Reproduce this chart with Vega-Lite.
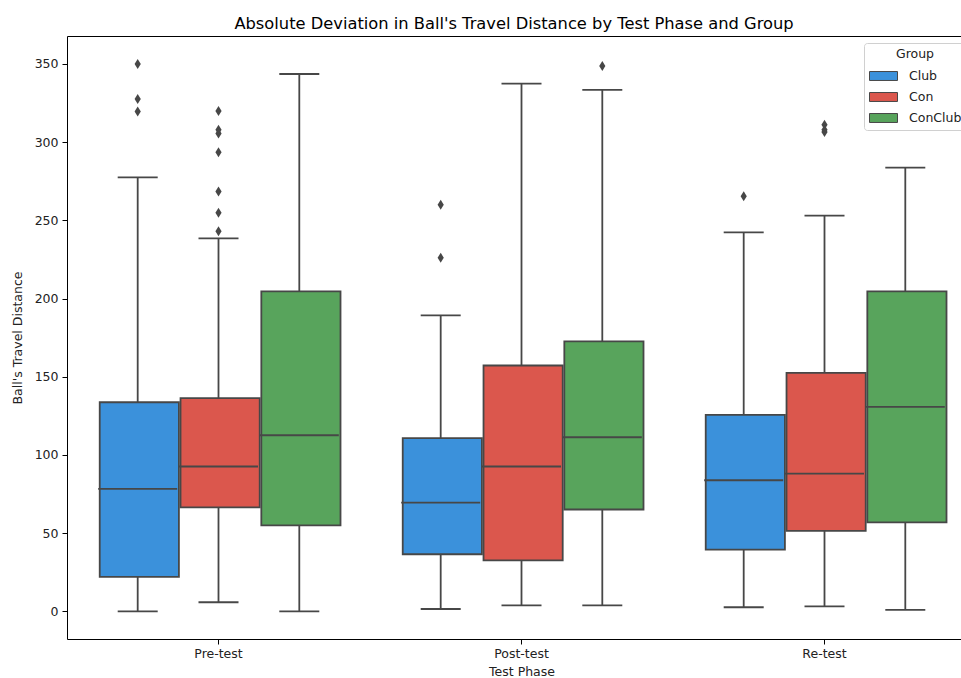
{
  "$schema": "https://vega.github.io/schema/vega-lite/v6.json",
  "autosize": {"type": "none"},
  "padding": {"left": 67, "top": 36, "right": 0, "bottom": 40},
  "width": 894,
  "height": 603,
  "background": "white",
  "title": {
    "text": "Absolute Deviation in Ball's Travel Distance by Test Phase and Group",
    "font": "DejaVu Sans",
    "fontSize": 16.3,
    "fontWeight": "normal",
    "color": "#000000",
    "anchor": "middle",
    "offset": 4,
    "frame": "group"
  },
  "datasets": {
    "boxes": [
      {"phase": "Pre-test", "group": "Club", "lower": 0, "q1": 22, "median": 78.3, "q3": 133.7, "upper": 277.5},
      {"phase": "Pre-test", "group": "Con", "lower": 5.8, "q1": 66.5, "median": 92.6, "q3": 136.3, "upper": 238.5},
      {"phase": "Pre-test", "group": "ConClub", "lower": 0, "q1": 55, "median": 112.6, "q3": 204.6, "upper": 343.6},
      {"phase": "Post-test", "group": "Club", "lower": 1.5, "q1": 36.5, "median": 69.5, "q3": 110.7, "upper": 189.2},
      {"phase": "Post-test", "group": "Con", "lower": 3.8, "q1": 32.6, "median": 92.6, "q3": 157.2, "upper": 337.4},
      {"phase": "Post-test", "group": "ConClub", "lower": 3.8, "q1": 65.1, "median": 111.3, "q3": 172.6, "upper": 333.4},
      {"phase": "Re-test", "group": "Club", "lower": 2.6, "q1": 39.5, "median": 83.8, "q3": 125.6, "upper": 242.3},
      {"phase": "Re-test", "group": "Con", "lower": 3.2, "q1": 51.4, "median": 88.1, "q3": 152.5, "upper": 253},
      {"phase": "Re-test", "group": "ConClub", "lower": 0.9, "q1": 56.9, "median": 130.8, "q3": 204.6, "upper": 283.7}
    ],
    "outliers": [
      {"phase": "Pre-test", "group": "Club", "value": 350},
      {"phase": "Pre-test", "group": "Club", "value": 327.6},
      {"phase": "Pre-test", "group": "Club", "value": 319.7},
      {"phase": "Pre-test", "group": "Con", "value": 320},
      {"phase": "Pre-test", "group": "Con", "value": 308},
      {"phase": "Pre-test", "group": "Con", "value": 305.5},
      {"phase": "Pre-test", "group": "Con", "value": 293.5},
      {"phase": "Pre-test", "group": "Con", "value": 268.5},
      {"phase": "Pre-test", "group": "Con", "value": 254.9},
      {"phase": "Pre-test", "group": "Con", "value": 243.1},
      {"phase": "Post-test", "group": "Club", "value": 260},
      {"phase": "Post-test", "group": "Club", "value": 226.1},
      {"phase": "Post-test", "group": "ConClub", "value": 348.7},
      {"phase": "Re-test", "group": "Club", "value": 265.5},
      {"phase": "Re-test", "group": "Con", "value": 311.2},
      {"phase": "Re-test", "group": "Con", "value": 308},
      {"phase": "Re-test", "group": "Con", "value": 306.5}
    ]
  },
  "encoding": {
    "x": {
      "field": "phase",
      "type": "nominal",
      "sort": ["Pre-test", "Post-test", "Re-test"],
      "scale": {"range": [0, 909], "paddingInner": 0.2, "paddingOuter": 0.1, "round": false},
      "axis": null
    },
    "xOffset": {
      "field": "group",
      "type": "nominal",
      "sort": ["Club", "Con", "ConClub"],
      "scale": {"paddingInner": 0, "paddingOuter": 0, "round": false}
    }
  },
  "layer": [
    {
      "data": {"name": "boxes"},
      "mark": {"type": "rule", "color": "#474747", "strokeWidth": 1.8},
      "encoding": {
        "x": {
          "field": "phase",
          "type": "nominal",
          "sort": ["Pre-test", "Post-test", "Re-test"],
          "axis": {
            "orient": "top",
            "labels": false,
            "ticks": false,
            "title": null,
            "domain": true,
            "domainColor": "#000000",
            "domainWidth": 1
          }
        },
        "y": {"field": "lower", "type": "quantitative"},
        "y2": {"field": "upper"}
      }
    },
    {
      "data": {"name": "boxes"},
      "mark": {"type": "tick", "orient": "horizontal", "color": "#474747", "thickness": 1.8, "size": 40, "opacity": 1},
      "encoding": {"y": {"field": "lower", "type": "quantitative"}}
    },
    {
      "data": {"name": "boxes"},
      "mark": {"type": "tick", "orient": "horizontal", "color": "#474747", "thickness": 1.8, "size": 40, "opacity": 1},
      "encoding": {"y": {"field": "upper", "type": "quantitative"}}
    },
    {
      "data": {"name": "boxes"},
      "mark": {"type": "bar", "stroke": "#474747", "strokeWidth": 1.8, "width": {"band": 0.98}, "opacity": 1},
      "encoding": {
        "x": {
          "field": "phase",
          "type": "nominal",
          "sort": ["Pre-test", "Post-test", "Re-test"],
          "axis": {
            "orient": "bottom",
            "title": "Test Phase",
            "labelAngle": 0,
            "domain": true,
            "domainColor": "#000000",
            "domainWidth": 1,
            "tickColor": "#000000",
            "tickSize": 5,
            "labelPadding": 3,
            "titlePadding": 6
          }
        },
        "y": {
          "field": "q1",
          "type": "quantitative",
          "title": "Ball's Travel Distance",
          "scale": {"domain": [-17.7, 367.9], "nice": false, "zero": false},
          "axis": {
            "values": [0, 50, 100, 150, 200, 250, 300, 350],
            "grid": false,
            "domain": true,
            "domainColor": "#000000",
            "domainWidth": 1,
            "tickColor": "#000000",
            "tickSize": 5,
            "labelPadding": 4,
            "titlePadding": 10
          }
        },
        "y2": {"field": "q3"},
        "color": {
          "field": "group",
          "type": "nominal",
          "sort": ["Club", "Con", "ConClub"],
          "scale": {"domain": ["Club", "Con", "ConClub"], "range": ["#3b91db", "#db574d", "#58a45c"]},
          "legend": {
            "title": "Group",
            "orient": "none",
            "legendX": 797,
            "legendY": 7,
            "titleAnchor": "middle",
            "titlePadding": 1,
            "symbolType": "M-1,-0.32L1,-0.32L1,0.32L-1,0.32Z",
            "symbolSize": 784,
            "symbolStrokeColor": "#474747",
            "symbolStrokeWidth": 1,
            "symbolOpacity": 1,
            "labelOffset": 11,
            "rowPadding": 0,
            "padding": 5,
            "fillColor": "white",
            "strokeColor": "#d0d0d0",
            "cornerRadius": 3
          }
        }
      }
    },
    {
      "data": {"name": "boxes"},
      "mark": {"type": "tick", "orient": "horizontal", "color": "#474747", "thickness": 1.8, "size": 79, "opacity": 1},
      "encoding": {"y": {"field": "median", "type": "quantitative"}}
    },
    {
      "data": {"name": "outliers"},
      "mark": {"type": "point", "shape": "M0,-1L0.62,0L0,1L-0.62,0Z", "size": 100, "filled": true, "color": "#474747", "opacity": 1},
      "encoding": {"y": {"field": "value", "type": "quantitative"}}
    }
  ],
  "resolve": {"axis": {"x": "independent"}},
  "config": {
    "view": {"stroke": null},
    "font": "DejaVu Sans",
    "axis": {
      "labelFont": "DejaVu Sans",
      "labelFontSize": 12.5,
      "labelColor": "#222222",
      "titleFont": "DejaVu Sans",
      "titleFontSize": 12.5,
      "titleFontWeight": "normal",
      "titleColor": "#222222"
    },
    "legend": {
      "labelFont": "DejaVu Sans",
      "labelFontSize": 12.5,
      "labelColor": "#222222",
      "titleFont": "DejaVu Sans",
      "titleFontSize": 12.5,
      "titleFontWeight": "normal",
      "titleColor": "#222222"
    }
  }
}
